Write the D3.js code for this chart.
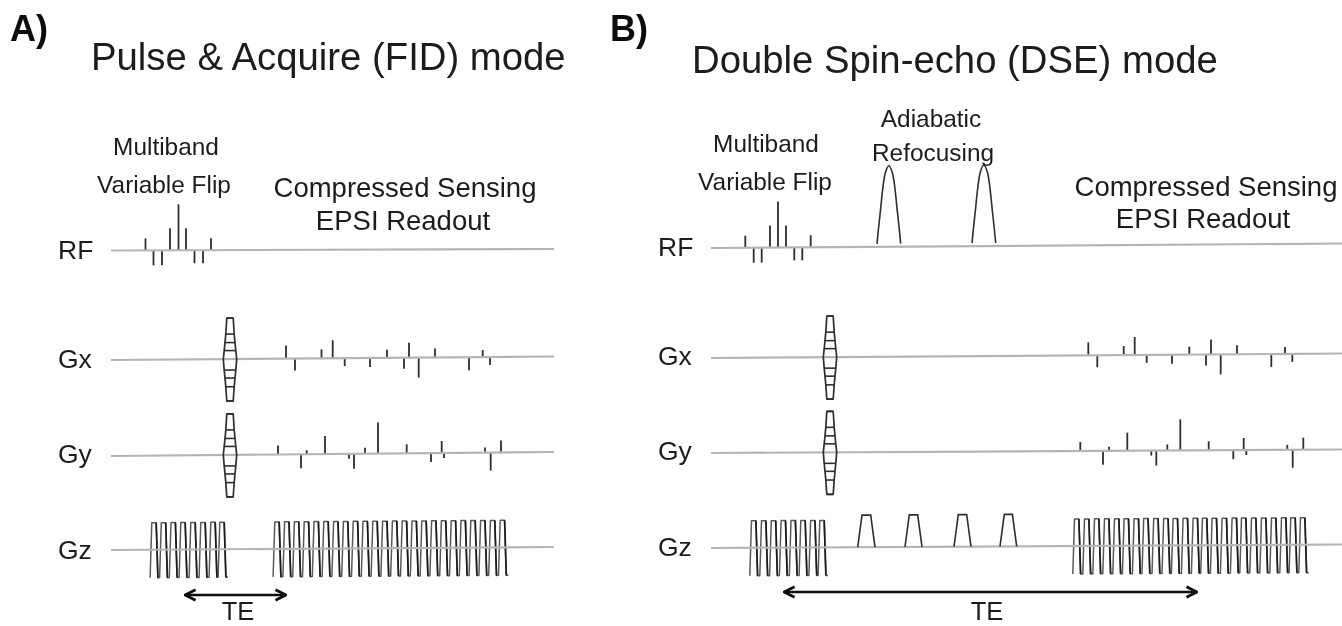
<!DOCTYPE html>
<html>
<head>
<meta charset="utf-8">
<script src="https://cdn.jsdelivr.net/npm/d3@7"></script>
<style>
  html, body { margin: 0; padding: 0; background: #fff; }
  svg { display: block; }
  text { font-family: "Liberation Sans", Arial, sans-serif; fill: #1c1c1c; }
</style>
</head>
<body>
<div id="chart"></div>
<script>
// Channels of each sequence diagram
const channels = ["RF", "Gx", "Gy", "Gz"];

// Panel A: spike times and amplitudes (time runs along each channel line)
const rfTimesA = [34.5, 42.5, 51, 59, 67.5, 75, 83.5, 92, 100];
const rfAmpsA = [12, -15, -15, 22, 46, 22, -13, -13, 12];
const gxTimesA = [175, 184, 210.5, 221.7, 233.7, 259, 276, 293, 298, 307.7, 324, 358, 371.7, 379];
const gxAmpsA = [13, -12, 9, 18, -8, -9, 8, -11, 15, -20, 9, -13, 7, -8];
const gyTimesA = [167, 190, 195.7, 214, 238, 243, 254, 267, 295.7, 320, 330.7, 333, 374, 379.7, 390];
const gyAmpsA = [9, -14, 4, 18, -5, -15, 6, 31, 9, -9, 12, -5, 5, -18, 12];

// Panel B: same pulses, shifted by the longer echo time
const rfTimesB = [34.3, 42.7, 50.7, 59, 67, 75, 83.3, 91.3, 99.7];
const rfAmpsB = [12, -15, -15, 22, 46, 22, -13, -13, 12];
const gxTimesB = [377.3, 386.3, 412.7, 423.7, 435.7, 461, 478.3, 495, 500, 509.7, 526, 560.3, 574, 581.3];
const gxAmpsB = [13, -12, 9, 18, -8, -9, 8, -11, 15, -20, 9, -13, 7, -8];
const gyTimesB = [369.3, 392, 398, 416.3, 440.3, 445.3, 456.3, 469.3, 497.7, 522.3, 532.7, 535.3, 576.3, 581.7, 592.3];
const gyAmpsB = [9, -14, 4, 18, -5, -15, 6, 31, 9, -9, 12, -5, 5, -18, 12];

// Gz readout lobes, centre time of every lobe
const gzLobesA1 = [43, 52.5, 62.2, 72, 82, 92, 102, 111];
const gzLobesA2 = [166, 175.8, 185.6, 195.4, 205.2, 215, 224.8, 234.6, 244.4, 254.2, 264, 273.8, 283.6, 293.4, 303.2, 313, 322.8, 332.6, 342.4, 352.2, 362, 371.8, 381.6, 391.4];
const gzLobesB1 = [42.7, 52.7, 62.5, 72.3, 82.2, 92, 101.8, 111];
const gzLobesB2 = [365.7, 375.7, 385.7, 395.7, 405.7, 415.3, 425.3, 434.9, 444.9, 454.9, 464.3, 474.3, 484.3, 493.6, 503.3, 513.3, 523.3, 532.7, 542.7, 552.7, 562.7, 572.7, 582, 591.7];

// Phase encode steps (amplitude of each rung)
const rungAmps = [41, 25, 16.5, 8.5, 0, -11, -19, -27.7, -42];
const rungWidths = [3.2, 4.2, 5, 5.8, 6.7, 5.8, 5, 4.2, 3.2];

// Panel B refocusing pulses and crusher gradients (start, end)
const adiabaticStarts = [166, 261];
const adiabaticEnds = [189.7, 284.7];
const crusherStarts = [146.7, 194, 243, 289];
const crusherEnds = [164, 211, 260, 305.7];

const titles = ["Pulse & Acquire (FID) mode", "Double Spin-echo (DSE) mode"];
const panelLetters = ["A)", "B)"];

const width = 1342;
const height = 626;

const svg = d3.select("#chart").append("svg")
  .attr("width", width)
  .attr("height", height);

// slight softening, the source is a scanned figure
const defs = svg.append("defs");
defs.append("filter").attr("id", "soft")
  .append("feGaussianBlur").attr("stdDeviation", 0.45);
const marker = defs.append("marker")
  .attr("id", "head")
  .attr("viewBox", "0 0 10 10")
  .attr("refX", 9).attr("refY", 5)
  .attr("markerWidth", 5.5).attr("markerHeight", 5.5)
  .attr("markerUnits", "strokeWidth")
  .attr("orient", "auto-start-reverse");
marker.append("path")
  .attr("d", "M1,1 L9,5 L1,9")
  .attr("fill", "none").attr("stroke", "#111").attr("stroke-width", 2.2);

const gridCol = "#b5b5b5";
const inkCol = "#2e2e2e";

function drawPanel(cfg) {
  const g = svg.append("g").attr("filter", "url(#soft)");
  const x = d3.scaleLinear().domain([0, cfg.span]).range(cfg.xRange);
  // one tilted baseline per channel, the figure is slightly rotated
  const base = {};
  channels.forEach((c, i) => {
    base[c] = d3.scaleLinear().domain([0, cfg.span]).range(cfg.baseY[i]);
  });
  const yOf = (c, t, a) => base[c](t) - a;

  // spikes
  function spikes(channel, times, amps, sw) {
    g.selectAll(null).data(times).enter().append("line")
      .attr("x1", d => x(d)).attr("x2", d => x(d))
      .attr("y1", d => yOf(channel, d, 0))
      .attr("y2", (d, i) => yOf(channel, d, amps[i]))
      .attr("stroke", inkCol).attr("stroke-width", sw);
  }
  spikes("RF", cfg.rfTimes, cfg.rfAmps, 1.8);
  spikes("Gx", cfg.gxTimes, cfg.gxAmps, 1.8);
  spikes("Gy", cfg.gyTimes, cfg.gyAmps, 1.8);

  // readout trains on Gz, falling edges print darker than rising ones
  function train(lobes) {
    const top = 27, bot = -28, half = 3.9, flat = 2.2;
    const pts = [];
    lobes.forEach(t => {
      pts.push([x(t - half), yOf("Gz", t, bot)]);
      pts.push([x(t - flat), yOf("Gz", t, top)]);
      pts.push([x(t + flat), yOf("Gz", t, top)]);
      pts.push([x(t + half), yOf("Gz", t, bot)]);
    });
    const last = lobes[lobes.length - 1];
    pts.push([x(last + 6), yOf("Gz", last, bot)]);
    g.append("path")
      .attr("d", d3.line()(pts))
      .attr("fill", "none").attr("stroke", "#5a5a5a").attr("stroke-width", 1.5)
      .attr("stroke-linejoin", "round");
    g.selectAll(null).data(lobes).enter().append("line")
      .attr("x1", t => x(t + flat)).attr("x2", t => x(t + half))
      .attr("y1", t => yOf("Gz", t, top)).attr("y2", t => yOf("Gz", t, bot))
      .attr("stroke", "#1e1e1e").attr("stroke-width", 1.7);
  }
  cfg.trains.forEach(train);

  // baselines run over the trains
  g.selectAll("line.base").data(channels).enter().append("line")
    .attr("class", "base")
    .attr("x1", x(0)).attr("x2", x(cfg.span))
    .attr("y1", c => base[c](0)).attr("y2", c => base[c](cfg.span))
    .attr("stroke", gridCol).attr("stroke-width", 2.2);

  // phase encode ladders on Gx and Gy
  ["Gx", "Gy"].forEach(c => {
    const t0 = cfg.ladderTime;
    const right = rungAmps.map((a, i) => [x(t0) + rungWidths[i], yOf(c, t0, a)]);
    const left = rungAmps.map((a, i) => [x(t0) - rungWidths[i], yOf(c, t0, a)]).reverse();
    g.append("path")
      .attr("d", d3.line()(right.concat(left)) + "Z")
      .attr("fill", "none").attr("stroke", inkCol).attr("stroke-width", 1.7)
      .attr("stroke-linejoin", "round");
    g.selectAll(null).data(rungAmps.filter(a => a !== 0)).enter().append("line")
      .attr("x1", a => x(t0) - rungWidths[rungAmps.indexOf(a)])
      .attr("x2", a => x(t0) + rungWidths[rungAmps.indexOf(a)])
      .attr("y1", a => yOf(c, t0, a)).attr("y2", a => yOf(c, t0, a))
      .attr("stroke", inkCol).attr("stroke-width", 1.6);
  });

  // refocusing pulses and crushers, panel B only
  (cfg.adiabatic || []).forEach(p => {
    const mid = (p[0] + p[1]) / 2;
    const pts = [[p[0], 3], [p[0] + 3, 32], [mid - 3.5, 74], [mid, 81], [mid + 3.5, 74], [p[1] - 3, 32], [p[1], 3]];
    g.append("path")
      .attr("d", d3.line().curve(d3.curveCatmullRom)(pts.map(q => [x(q[0]), yOf("RF", q[0], q[1])])))
      .attr("fill", "none").attr("stroke", inkCol).attr("stroke-width", 1.6);
  });
  (cfg.crushers || []).forEach(p => {
    const pts = [[p[0], 0], [p[0] + 4.3, 32], [p[1] - 4.3, 32], [p[1], 0]];
    g.append("path")
      .attr("d", d3.line()(pts.map(q => [x(q[0]), yOf("Gz", q[0], q[1])])))
      .attr("fill", "none").attr("stroke", inkCol).attr("stroke-width", 1.6);
  });

  // TE arrow
  g.append("line")
    .attr("x1", cfg.teX[0]).attr("x2", cfg.teX[1])
    .attr("y1", cfg.teY[0]).attr("y2", cfg.teY[1])
    .attr("stroke", "#111").attr("stroke-width", 2.4)
    .attr("marker-start", "url(#head)").attr("marker-end", "url(#head)");

  // labels
  const t = svg.append("g").attr("filter", "url(#soft)");
  t.append("text").text(cfg.letter)
    .attr("x", cfg.letterX).attr("y", cfg.letterY)
    .attr("font-size", 36).attr("font-weight", 700).style("fill", "#111");
  t.append("text").text(cfg.title)
    .attr("x", cfg.titleX).attr("y", cfg.titleY)
    .attr("font-size", 38.3);
  channels.forEach((c, i) => {
    t.append("text").text(c)
      .attr("x", cfg.chanX).attr("y", cfg.chanY[i])
      .attr("font-size", 26.5);
  });
  cfg.notes.forEach(n => {
    t.append("text").text(n[0])
      .attr("x", n[1]).attr("y", n[2])
      .attr("text-anchor", "middle")
      .attr("font-size", n[3]);
  });
}

drawPanel({
  letter: panelLetters[0], letterX: 10, letterY: 41,
  title: titles[0], titleX: 91, titleY: 70,
  span: 443, xRange: [111, 554],
  baseY: [[250.5, 249], [360, 356.5], [456, 452], [550, 547]],
  rfTimes: rfTimesA, rfAmps: rfAmpsA,
  gxTimes: gxTimesA, gxAmps: gxAmpsA,
  gyTimes: gyTimesA, gyAmps: gyAmpsA,
  ladderTime: 119,
  trains: [gzLobesA1, gzLobesA2],
  teX: [185, 286], teY: [595, 595],
  chanX: 58, chanY: [259, 367.5, 463, 559],
  notes: [
    ["Multiband", 166, 154.5, 24.4],
    ["Variable Flip", 164, 193, 24.4],
    ["Compressed Sensing", 405, 197, 27.5],
    ["EPSI Readout", 403, 229.5, 27.5],
    ["TE", 238, 620.4, 25.5]
  ]
});

drawPanel({
  letter: panelLetters[1], letterX: 610, letterY: 41,
  title: titles[1], titleX: 692, titleY: 72.5,
  span: 631, xRange: [711, 1342],
  baseY: [[248, 243.5], [358, 353.5], [453, 449.5], [548, 544.5]],
  rfTimes: rfTimesB, rfAmps: rfAmpsB,
  gxTimes: gxTimesB, gxAmps: gxAmpsB,
  gyTimes: gyTimesB, gyAmps: gyAmpsB,
  ladderTime: 119,
  trains: [gzLobesB1, gzLobesB2],
  adiabatic: adiabaticStarts.map((s, i) => [s, adiabaticEnds[i]]),
  crushers: crusherStarts.map((s, i) => [s, crusherEnds[i]]),
  teX: [784, 1197], teY: [592, 592],
  chanX: 658, chanY: [256, 364.5, 460, 556],
  notes: [
    ["Multiband", 766, 152, 24.4],
    ["Variable Flip", 765, 190, 24.4],
    ["Adiabatic", 931, 127, 24.4],
    ["Refocusing", 933, 161, 24.4],
    ["Compressed Sensing", 1206, 196, 27.5],
    ["EPSI Readout", 1203, 228, 27.5],
    ["TE", 987, 620.4, 25.5]
  ]
});
</script>
</body>
</html>
